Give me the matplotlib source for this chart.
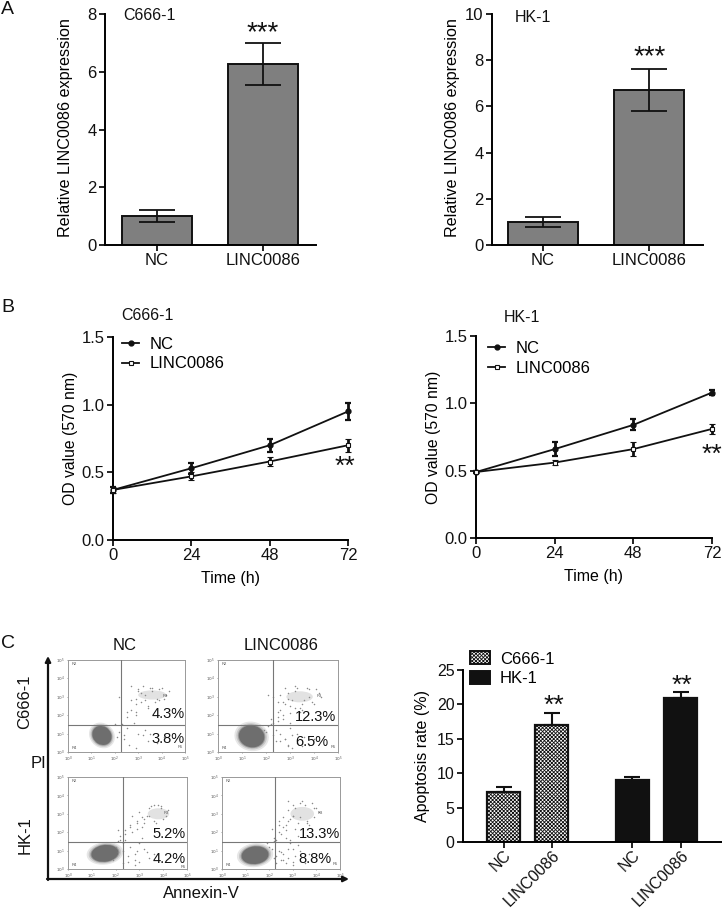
import matplotlib
matplotlib.use('Agg')
import matplotlib.pyplot as plt
from matplotlib.patches import Ellipse, Patch

plt.rcParams['font.family'] = ['Liberation Sans', 'DejaVu Sans']
plt.rcParams['hatch.linewidth'] = 0.6

W, H = 722, 911

# panel A
groups_a = ['NC', 'LINC0086']
c666_expr = [1.0, 6.27]
c666_expr_err = [0.22, 0.72]
hk1_expr = [1.0, 6.72]
hk1_expr_err = [0.2, 0.92]

# panel B
hours = [0, 24, 48, 72]
c666_nc = [0.37, 0.53, 0.70, 0.95]
c666_nc_err = [0.02, 0.04, 0.05, 0.06]
c666_linc = [0.37, 0.47, 0.58, 0.70]
c666_linc_err = [0.02, 0.03, 0.03, 0.05]
hk1_nc = [0.49, 0.66, 0.84, 1.08]
hk1_nc_err = [0.01, 0.05, 0.04, 0.02]
hk1_linc = [0.49, 0.56, 0.66, 0.81]
hk1_linc_err = [0.01, 0.02, 0.05, 0.04]

# panel C bars
apop_c666 = [7.2, 17.0]
apop_c666_err = [0.8, 1.7]
apop_hk1 = [9.0, 21.0]
apop_hk1_err = [0.5, 0.8]

# flow panels, values in decades: live cluster, R3 cluster, sparse events
flow_titles = ['4.3%', '3.8%', '12.3%', '6.5%', '5.2%', '4.2%', '13.3%', '8.8%']
flow_live = [(1.45, 0.9, 0.8, 1.05), (1.4, 0.85, 1.05, 1.2), (1.55, 0.85, 1.15, 0.9), (1.4, 0.75, 1.15, 0.95)]
flow_r3 = [(3.6, 3.1, 1.2, 0.5), (3.4, 3.0, 1.1, 0.6), (3.8, 3.0, 0.9, 0.6), (3.4, 3.0, 1.0, 0.75)]
flow_x = [
    [2.3, 2.5, 2.7, 2.9, 3.0, 3.2, 3.3, 3.5, 2.4, 2.6, 2.9, 3.4, 2.2, 2.5, 2.8, 2.9, 3.1, 3.4, 2.1, 2.4, 3.8, 4.1, 2.0, 2.2, 2.7, 3.0,
     3.1, 3.3, 3.5, 3.7, 3.9, 4.1, 4.3, 3.2, 3.4, 3.6, 3.8, 4.0, 4.2, 2.9, 3.0, 3.3, 3.6, 3.9, 2.5, 2.7, 2.9],
    [2.3, 2.5, 2.6, 2.8, 3.0, 3.0, 3.2, 2.4, 2.6, 2.8, 2.9, 3.1, 3.3, 2.2, 2.5, 2.7, 3.0, 3.4, 2.3, 2.6, 2.9, 3.3, 2.1, 2.4, 2.8, 3.5, 2.2, 2.5, 3.1, 3.6, 2.0, 2.3, 1.9, 2.1, 3.8, 4.0,
     2.7, 2.9, 3.1, 3.3, 3.5, 3.7, 3.9, 4.1, 4.3, 2.8, 3.0, 3.2, 3.4, 3.6, 3.8, 4.0, 2.6, 2.9, 3.2, 3.5, 3.8, 4.2, 2.5, 2.7],
    [2.2, 2.4, 2.6, 2.9, 3.1, 2.3, 2.6, 2.8, 3.0, 3.2, 2.1, 2.4, 2.7, 2.9, 2.0, 2.2, 2.5, 2.8, 3.1, 2.3, 2.6, 3.0, 3.3, 2.1, 2.5, 2.9, 3.4, 2.4, 2.8, 3.6, 1.9, 2.1, 2.3,
     3.2, 3.4, 3.6, 3.8, 4.0, 4.2, 3.3, 3.5, 3.7, 3.9, 4.1, 3.0, 3.2, 3.4, 3.6, 3.9, 2.7, 2.9, 3.1],
    [2.2, 2.4, 2.6, 2.8, 3.0, 3.1, 2.3, 2.5, 2.7, 2.9, 3.2, 2.0, 2.2, 2.4, 2.6, 2.8, 3.0, 1.9, 2.1, 2.3, 2.5, 2.7, 3.0, 3.3, 2.1, 2.4, 2.7, 3.1, 3.5, 2.2, 2.5, 2.9, 3.2, 2.3, 2.6, 3.0, 3.7, 4.2, 2.4, 2.8,
     2.6, 2.8, 3.0, 3.2, 3.4, 3.6, 3.8, 4.0, 2.7, 2.9, 3.1, 3.3, 3.5, 3.7, 3.9, 2.8, 3.0, 3.3, 3.6, 3.9, 4.1],
]
flow_y = [
    [1.5, 1.9, 2.3, 2.6, 1.0, 0.9, 1.2, 1.0, 0.7, 0.4, 0.2, 0.6, 1.1, 1.3, 1.6, 2.0, 2.7, 2.4, 0.8, 0.9, 0.5, 0.8, 1.5, 3.0, 3.6, 3.3,
     3.2, 2.8, 3.5, 2.7, 3.4, 2.9, 3.3, 3.6, 2.5, 3.3, 2.9, 3.5, 3.1, 2.9, 3.4, 3.1, 3.5, 2.8, 2.2, 2.8, 2.2],
    [1.6, 1.9, 2.3, 2.6, 2.1, 1.3, 2.4, 1.2, 1.0, 0.7, 0.4, 0.9, 0.5, 1.5, 1.7, 2.0, 1.6, 2.2, 0.9, 0.6, 0.3, 1.0, 1.4, 0.6, 0.7, 0.3, 1.8, 2.2, 0.2, 0.8, 1.1, 3.0, 1.2, 3.1, 0.4, 0.7,
     2.7, 3.2, 2.8, 3.5, 2.6, 3.5, 2.7, 3.4, 3.0, 3.5, 2.5, 3.6, 2.4, 2.8, 3.4, 2.6, 3.1, 2.9, 3.3, 2.3, 3.0, 3.2, 2.7, 1.8],
    [1.6, 1.9, 2.3, 2.6, 2.8, 1.0, 1.2, 0.8, 0.4, 1.1, 1.5, 1.6, 2.0, 2.2, 1.2, 1.8, 0.7, 0.5, 1.7, 1.4, 2.4, 1.4, 0.9, 0.9, 0.4, 1.0, 0.6, 2.1, 0.2, 0.8, 0.5, 2.1, 0.3,
     2.7, 3.3, 2.6, 3.5, 2.7, 3.2, 2.9, 3.4, 2.5, 3.4, 2.9, 3.1, 2.5, 2.9, 3.5, 3.3, 2.9, 2.5, 2.3],
    [1.7, 2.0, 2.3, 2.6, 2.9, 2.2, 1.6, 1.9, 1.7, 1.4, 1.8, 1.2, 1.5, 1.0, 0.8, 0.6, 1.1, 1.4, 1.1, 0.7, 0.5, 0.3, 0.4, 1.0, 2.2, 2.6, 2.1, 0.7, 0.3, 0.6, 0.9, 1.6, 1.3, 0.3, 0.5, 0.2, 0.8, 0.4, 2.4, 1.1,
     2.8, 3.2, 3.5, 2.5, 3.7, 2.6, 3.6, 3.3, 2.4, 2.7, 3.3, 2.8, 3.5, 2.4, 3.3, 3.7, 2.9, 3.6, 2.5, 2.8, 3.1],
]

BLACK = '#111111'
TICK_SIZE = 12
LABEL_SIZE = 11.5


def make_ax(x0, y_top, x1, y_bot):
    return fig.add_axes([x0 / W, 1 - y_bot / H, (x1 - x0) / W, (y_bot - y_top) / H])


def px_text(x, y, s, size=11.5, **kw):
    kw.setdefault('ha', 'center')
    kw.setdefault('va', 'center')
    fig.text(x / W, 1 - y / H, s, fontsize=size, color=BLACK, **kw)


def prism_axes(ax):
    ax.spines['top'].set_visible(False)
    ax.spines['right'].set_visible(False)
    ax.spines['left'].set_linewidth(1.4)
    ax.spines['bottom'].set_linewidth(1.4)
    ax.tick_params(width=1.3, length=4, labelsize=TICK_SIZE, pad=2, colors=BLACK)
    ax.patch.set_alpha(0)


def expr_panel(box, vals, errs, ymax, yticks, left):
    ax = make_ax(*box)
    ax.bar([0, 1], vals, width=0.665, color='#7f7f7f', edgecolor=BLACK, linewidth=1.4)
    ax.errorbar([0, 1], vals, yerr=errs, fmt='none', ecolor=BLACK, elinewidth=1.3, capsize=13, capthick=1.3)
    ax.set_xlim(left, left + (box[2] - box[0]) / 106)
    ax.set_ylim(0, ymax)
    ax.set_xticks([0, 1], groups_a)
    ax.set_yticks(yticks)
    ax.set_ylabel('Relative LINC0086 expression', fontsize=11.6)
    ax.yaxis.set_label_coords(-32 / (box[2] - box[0]), 0.51)
    prism_axes(ax)
    return ax


def od_panel(box, nc, nc_err, linc, linc_err, leg_pos):
    ax = make_ax(*box)
    ax.errorbar(hours, nc, yerr=nc_err, color=BLACK, lw=1.3, marker='o', ms=3.5, elinewidth=2, capsize=2.5, capthick=1.6, clip_on=False, zorder=3)
    ax.errorbar(hours, linc, yerr=linc_err, color=BLACK, lw=1.3, marker='s', ms=3.5, mfc='white', mew=0.8, elinewidth=2, capsize=2.5, capthick=1.6, clip_on=False, zorder=3)
    ax.set_xlim(0, 72)
    ax.set_ylim(0, 1.5)
    ax.set_xticks(hours)
    ax.set_yticks([0, 0.5, 1.0, 1.5], ['0.0', '0.5', '1.0', '1.5'])
    ax.set_xlabel('Time (h)', fontsize=LABEL_SIZE)
    ax.xaxis.set_label_coords(0.5, -31 / (box[3] - box[1]))
    ax.set_ylabel('OD value (570 nm)', fontsize=11.3)
    ax.yaxis.set_label_coords(-35 / (box[2] - box[0]), 0.5)
    prism_axes(ax)
    line_nc = ax.plot([], [], color=BLACK, lw=1.3, marker='o', ms=3.5)[0]
    line_li = ax.plot([], [], color=BLACK, lw=1.3, marker='s', ms=3.5, mfc='white', mew=0.8)[0]
    ax.legend([line_nc, line_li], ['NC', 'LINC0086'], loc='upper left', bbox_to_anchor=leg_pos,
              frameon=False, fontsize=TICK_SIZE, handlelength=1.05, labelspacing=0.27, handletextpad=0.6, borderpad=0, borderaxespad=0)
    return ax


def flow_panel(box, idx, vgate, hgate, r3_pos):
    ax = make_ax(*box)
    cx, cy, w, h = flow_r3[idx]
    ax.add_patch(Ellipse((cx, cy), w, h, color='#e2e2e2', lw=0))
    cx, cy, w, h = flow_live[idx]
    # soft edge on the dense population
    for scale, col in [(1.35, '#e6e6e6'), (1.2, '#c8c8c8'), (1.08, '#9a9a9a'), (1.0, '#6e6e6e')]:
        ax.add_patch(Ellipse((cx, cy), w * scale, h * scale, angle=15, color=col, lw=0))
    ax.scatter(flow_x[idx], flow_y[idx], s=1.2, color='#8a8a8a', lw=0, zorder=3)
    ax.axvline(vgate, color='#777777', lw=0.8, zorder=4)
    ax.axhline(hgate, color='#777777', lw=0.8, zorder=4)
    ax.set_xlim(0, 5)
    ax.set_ylim(0, 5)
    ticks = [0, 1, 2, 3, 4, 5]
    labels = [f'$10^{t}$' for t in ticks]
    ax.set_xticks(ticks, labels)
    ax.set_yticks(ticks, labels)
    ax.tick_params(length=1, width=0.4, labelsize=3, pad=1, colors='#555555')
    for sp in ax.spines.values():
        sp.set_linewidth(0.7)
        sp.set_color('#999999')
    for s, x, y in [('R2', 0.15, 4.8), ('R4', 0.15, 0.22), ('R3', r3_pos[0], r3_pos[1])]:
        ax.text(x, y, s, fontsize=3, color='#555555', va='center')
    if idx != 2:
        ax.text(4.7, 0.25, 'R5', fontsize=3, color='#555555', va='center')
    else:
        ax.text(4.72, 0.1, 'R5', fontsize=3, color='#555555', va='center')


fig = plt.figure(figsize=(W / 100, H / 100), dpi=100)

# A
expr_panel((105, 14, 316, 245), c666_expr, c666_expr_err, 8, [0, 2, 4, 6, 8], -0.49)
expr_panel((492, 14, 703, 245), hk1_expr, hk1_expr_err, 10, [0, 2, 4, 6, 8, 10], -0.48)
px_text(149, 16, 'C666-1')
px_text(533, 18, 'HK-1')
px_text(263, 33, '***', size=20)
px_text(650, 57, '***', size=20)

# B
od_panel((113, 337, 348, 540), c666_nc, c666_nc_err, c666_linc, c666_linc_err, (0.038, 1.0))
od_panel((476, 336, 712, 538), hk1_nc, hk1_nc_err, hk1_linc, hk1_linc_err, (0.05, 0.975))
px_text(147, 316, 'C666-1')
px_text(522, 317, 'HK-1')
px_text(345, 467, '**', size=19)
px_text(712, 455, '**', size=19)

# C flow
flow_panel((68, 660, 185, 752), 0, 2.28, 1.48, (4.05, 3.05))
flow_panel((218, 660, 338, 752), 1, 2.28, 1.48, (4.1, 3.05))
flow_panel((68, 777, 187, 869), 2, 2.3, 1.48, (4.0, 3.05))
flow_panel((222, 777, 340, 869), 3, 2.25, 1.48, (4.05, 3.05))
for s, x, y in zip(flow_titles, [168, 168, 316, 312, 169, 169, 319, 315], [714, 739, 717, 742, 834, 859, 834, 859]):
    px_text(x, y, s, size=10.5)
px_text(125, 646, 'NC', size=12)
px_text(281, 646, 'LINC0086', size=12)
px_text(25, 702, 'C666-1', size=12, rotation=90)
px_text(25, 835, 'HK-1', size=12, rotation=90)
px_text(38, 764, 'PI', size=12)
px_text(201, 893, 'Annexin-V', size=12)

arrow_ax = fig.add_axes([0, 0, 1, 1])
arrow_ax.set_xlim(0, W)
arrow_ax.set_ylim(H, 0)
arrow_ax.axis('off')
arrow_ax.annotate('', xy=(48, 656), xytext=(48, 880), arrowprops=dict(arrowstyle='-|>', lw=1.6, color=BLACK, mutation_scale=8, shrinkA=0, shrinkB=0))
arrow_ax.annotate('', xy=(349, 879), xytext=(47, 879), arrowprops=dict(arrowstyle='-|>', lw=1.6, color=BLACK, mutation_scale=8, shrinkA=0, shrinkB=0))

# C bars
ax = make_ax(463, 670, 722, 842)
pos = [0, 1, 2.68, 3.69]
labels = ['NC', 'LINC0086', 'NC', 'LINC0086']
vals = apop_c666 + apop_hk1
errs = apop_c666_err + apop_hk1_err
for i in range(4):
    if i < 2:
        ax.bar(pos[i], vals[i], width=0.69, color='white', edgecolor=BLACK, linewidth=1.6, hatch='xxxxxxxxx')
    else:
        ax.bar(pos[i], vals[i], width=0.69, color=BLACK, edgecolor=BLACK, linewidth=1.6)
    ax.errorbar(pos[i], vals[i], yerr=[[0], [errs[i]]], fmt='none', ecolor=BLACK, elinewidth=1.5, capsize=5.5, capthick=1.5)
ax.set_xlim(-0.85, 4.55)
ax.set_ylim(0, 25)
ax.set_yticks([0, 5, 10, 15, 20, 25])
ax.set_xticks(pos)
ax.set_xticklabels(labels, rotation=45, ha='right', rotation_mode='anchor')
ax.set_ylabel('Apoptosis rate (%)', fontsize=LABEL_SIZE)
ax.yaxis.set_label_coords(-33 / 259, 0.5)
prism_axes(ax)
ax.tick_params(axis='y', labelsize=11.5)
ax.tick_params(axis='x', labelsize=11.5, pad=0)
leg = [Patch(facecolor='white', edgecolor=BLACK, linewidth=1.4, hatch='xxxxxxxxx', label='C666-1'),
       Patch(facecolor=BLACK, edgecolor=BLACK, linewidth=1.4, label='HK-1')]
ax.legend(handles=leg, loc='upper left', bbox_to_anchor=(0.027, 1.108), frameon=False, fontsize=TICK_SIZE,
          handlelength=1.2, handleheight=0.8, labelspacing=0.27, handletextpad=0.6, borderpad=0, borderaxespad=0)
px_text(554, 706, '**', size=19)
px_text(682, 686, '**', size=19)

px_text(1, 9, 'A', size=14, ha='left')
px_text(1, 307, 'B', size=14, ha='left')
px_text(1, 644, 'C', size=14, ha='left')

fig.savefig('out.png', dpi=100)
